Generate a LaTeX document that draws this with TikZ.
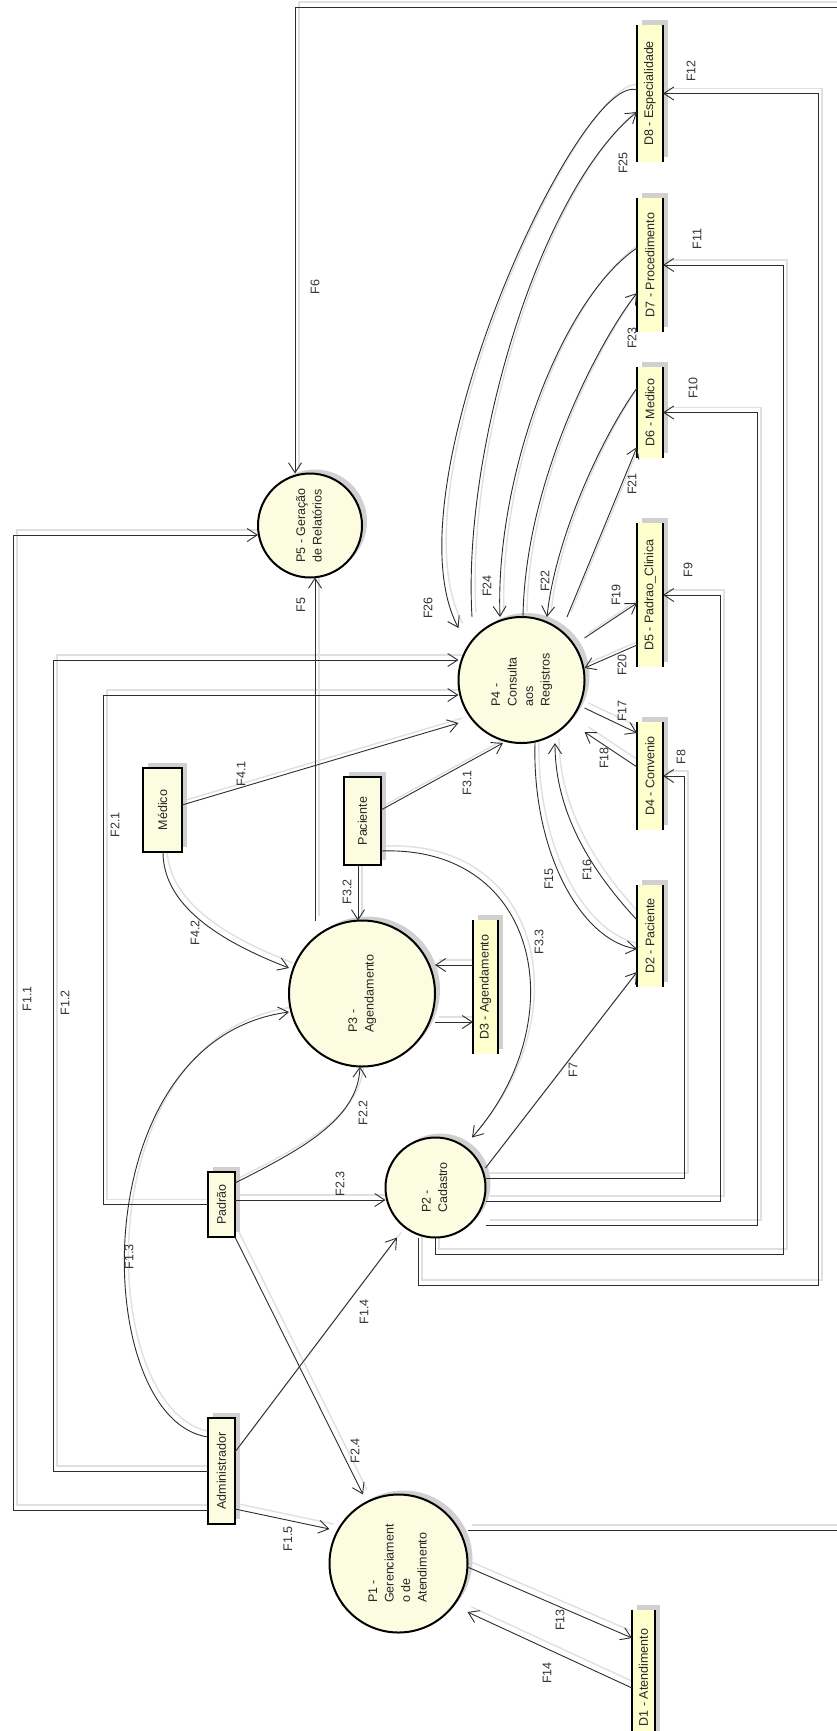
\documentclass[tikz,border=0pt]{standalone}
\usepackage{fontspec}
\setmainfont{Liberation Sans}
\usepackage{graphicx}
\usetikzlibrary{arrows.meta,shadows,calc}
\pgfdeclarelayer{bg}
\pgfsetlayers{bg,main}
\definecolor{procfill}{RGB}{252,252,224}
\definecolor{storefill}{RGB}{255,255,206}
\definecolor{shadowgray}{RGB}{208,208,208}
\definecolor{flowshadow}{RGB}{224,224,224}
\definecolor{linecol}{RGB}{45,45,45}
\newcommand\rt[1]{\rotatebox{90}{\begin{tabular}{@{}l@{}}#1\end{tabular}}}
\newcommand\allflows{%
% F6
\draw[flow] (p1.east |- 0,1530) -| (841,7) -| (p5.north -| 295,0);
% F1.1
\draw[flow] (adm.west |- 0,1510) -| (13,535) -- (p5.west |- 0,535);
% F1.2
\draw[flow] (adm.west |- 0,1471) -| (53,660) -- (p4.west |- 0,660);
% F2.1
\draw[flow] (pad.west) -| (103,695) -- (p4.west |- 0,695);
% F5
\draw[flow] (p3.north -| 315,0) -- (p5.south -| 315,0);
% F4.1
\draw[flow] (med.east |- 0,805) -- (p4.west |- 0,723);
% F3.1
\draw[flow] (pac.east |- 0,810) -- (503,0 |- p4.south);
% F4.2
\draw[flow] (med.south -| 163,0) .. controls (163,910) and (230,945) .. (p3.west |- 0,968);
% F3.2
\draw[flow] (pac.south -| 358,0) -- (p3.north -| 358,0);
% F1.3
\draw[flow] (adm.west |- 0,1437) .. controls (90,1420) and (80,1040) .. (p3.west |- 0,1012);
% F2.2
\draw[flow] (pad.east |- 0,1183) .. controls (300,1150) and (358,1120) .. (360,0 |- p3.south);
% F2.3
\draw[flow] (pad.east |- 0,1200) -- (p2.west |- 0,1200);
% F2.4
\draw[flow] (pad.south east) -- (363,0 |- p1.north);
% F1.4
\draw[flow] (adm.east |- 0,1452) -- (397,0 |- p2.south);
% F1.5
\draw[flow] (adm.east |- 0,1509) -- (p1.west |- 0,1529);
% F3.3
\draw[flow] (pac.east |- 0,851) .. controls (540,845) and (575,1020) .. (472,0 |- p2.north);
% F15
\draw[flow] (535,0 |- p4.south) .. controls (532,850) and (580,940) .. (d2.west |- 0,949);
% F16
\draw[flow] (d2.west |- 0,920) .. controls (600,880) and (555,820) .. (555,0 |- p4.south);
% F17
\draw[flow] (p4.east |- 0,708) -- (d4.west |- 0,733);
% F18
\draw[flow] (d4.west |- 0,767) -- (p4.east |- 0,732);
% F19
\draw[flow] (p4.east |- 0,638) -- (d5.west |- 0,603);
% F20
\draw[flow] (d5.west |- 0,645) -- (p4.east |- 0,668);
% F21
\draw[flow] (567,0 |- p4.north) -- (d6.west |- 0,447);
% F22
\draw[flow] (d6.west |- 0,388) .. controls (600,440) and (555,540) .. (547,0 |- p4.north);
% F23
\draw[flow] (523,0 |- p4.north) .. controls (525,480) and (600,340) .. (d7.west |- 0,293);
% F24
\draw[flow] (d7.west |- 0,248) .. controls (560,300) and (495,480) .. (500,0 |- p4.north);
% F25
\draw[flow] (472,0 |- p4.north) .. controls (462,450) and (540,190) .. (d8.west |- 0,112);
% F26
\draw[flow] (d8.west |- 0,90) .. controls (580,70) and (385,490) .. (p4.west |- 0,628);
% F7
\draw[flow] (p2.east |- 0,1168) -- (d2.west |- 0,972);
% F8
\draw[flow] (p2.east |- 0,1178) -| ([xshift=21pt]d4.east) -- (d4.east);
% F9
\draw[flow] (p2.east |- 0,1201) -| ([xshift=57pt]d5.east) -- (d5.east);
% F10
\draw[flow] (p2.east |- 0,1225) -| ([xshift=94pt]d6.east) -- (d6.east);
% F11
\draw[flow] (435,0 |- p2.south) |- (783,1254) |- (d7.east);
% F12
\draw[flow] (418,0 |- p2.south) |- (818,1285) |- (d8.east);
% F13
\draw[flow] (p1.east |- 0,1567) -- (d1.west |- 0,1638);
% F14
\draw[flow] (d1.west |- 0,1688) -- (p1.east |- 0,1612);
% D3 <-> P3
\draw[flow] (d3.west |- 0,965) -- (p3.east |- 0,965);
\draw[flow] (p3.east |- 0,1022) -- (d3.west |- 0,1022);
}
\begin{document}
\begin{tikzpicture}[x=1pt,y=-1pt,
  font=\fontsize{12.5}{16.5}\selectfont,
  every node/.style={text=black!85},
  proc/.style={circle, draw=black, line width=2pt, fill=procfill, inner sep=0pt, outer sep=0pt,
    drop shadow={shadow xshift=5pt, shadow yshift=4pt, fill=shadowgray, opacity=1}},
  ent/.style={rectangle, draw=black, line width=2.4pt, fill=procfill, inner sep=0pt, outer sep=0pt,
    drop shadow={shadow xshift=5pt, shadow yshift=5pt, fill=shadowgray, opacity=1}},
  store/.style={rectangle, fill=storefill, inner sep=0pt, outer sep=0pt, minimum width=26pt,
    drop shadow={shadow xshift=5pt, shadow yshift=5pt, fill=shadowgray, opacity=1}},
  storeline/.style={line width=2.4pt, draw=black},
  flow/.style={draw=linecol, line width=0.9pt, -{Straight Barb[length=10pt,width=13pt]}},
  flowlbl/.style={rotate=90, inner sep=0pt, text=black!80}
]
\useasboundingbox (0,0) rectangle (836,1731);
\begin{pgfonlayer}{bg}
\fill[white] (0,0) rectangle (836,1731);
\end{pgfonlayer}

% processes
\node[proc, minimum size=104pt] (p5) at (310,525.5) {\rt{P5 - Geração\\de Relatórios}};
\node[proc, minimum size=126pt] (p4) at (521.5,680) {\rt{P4 -\\Consulta\\aos\\Registros}};
\node[proc, minimum size=146pt] (p3) at (362,993.5) {\rt{P3 -\\Agendamento}};
\node[proc, minimum size=100pt] (p2) at (435.5,1187.5) {\rt{P2 -\\Cadastro}};
\node[proc, minimum size=138pt] (p1) at (398.5,1563.5) {\rt{P1 -\\Gerenciament\\o de\\Atendimento}};

% external entities
\node[ent, minimum width=39pt, minimum height=84pt] (med) at (162.5,810) {\rotatebox{90}{Médico}};
\node[ent, minimum width=37pt, minimum height=88pt] (pac) at (362.5,821) {\rotatebox{90}{Paciente}};
\node[ent, minimum width=27pt, minimum height=65pt] (pad) at (221.5,1204.5) {\rotatebox{90}{Padrão}};
\node[ent, minimum width=27pt, minimum height=106pt] (adm) at (221.5,1471) {\rotatebox{90}{Administrador}};

% data stores
\node[store, minimum height=137pt] (d8) at (650,93.5) {\rotatebox{90}{D8 - Especialidade}};
\node[store, minimum height=134pt] (d7) at (650,265) {\rotatebox{90}{D7 - Procedimento}};
\node[store, minimum height=91pt] (d6) at (650,412.5) {\rotatebox{90}{D6 - Medico}};
\node[store, minimum height=144pt] (d5) at (650,595) {\rotatebox{90}{D5 - Padrao\_Clinica}};
\node[store, minimum height=108pt] (d4) at (650,776) {\rotatebox{90}{D4 - Convenio}};
\node[store, minimum height=102pt] (d2) at (650,936) {\rotatebox{90}{D2 - Paciente}};
\node[store, minimum width=25pt, minimum height=134pt] (d3) at (485.5,987) {\rotatebox{90}{D3 - Agendamento}};
\node[store, minimum width=23pt, minimum height=135pt] (d1) at (643.5,1677.5) {\rotatebox{90}{D1 - Atendimento}};
\foreach \s in {d1,d2,d3,d4,d5,d6,d7,d8}
  \draw[storeline] (\s.north west) -- (\s.south west) (\s.north east) -- (\s.south east);

% connector shadows
\begin{pgfonlayer}{bg}
\begin{scope}[transform canvas={xshift=4pt,yshift=5pt}, flow/.style={draw=flowshadow, line width=1.4pt}]
\allflows
\end{scope}
\end{pgfonlayer}

% connectors
\allflows

% labels
\node[flowlbl] (lF6) at (315,287) {F6};
\node[flowlbl] (lF12) at (691,71) {F12};
\node[flowlbl] (lF25) at (623,163) {F25};
\node[flowlbl] (lF11) at (697,239) {F11};
\node[flowlbl] (lF23) at (632,338) {F23};
\node[flowlbl] (lF10) at (693,388) {F10};
\node[flowlbl] (lF21) at (632,484) {F21};
\node[flowlbl] (lF26) at (428,608) {F26};
\node[flowlbl] (lF24) at (487,586) {F24};
\node[flowlbl] (lF22) at (545,581) {F22};
\node[flowlbl] (lF19) at (616,595) {F19};
\node[flowlbl] (lF9) at (688,570) {F9};
\node[flowlbl] (lF20) at (622,665) {F20};
\node[flowlbl] (lF17) at (622,711) {F17};
\node[flowlbl] (lF18) at (604,758) {F18};
\node[flowlbl] (lF8) at (681,757) {F8};
\node[flowlbl] (lF31) at (467,783) {F3.1};
\node[flowlbl] (lF5) at (301,605) {F5};
\node[flowlbl] (lF41) at (241,774) {F4.1};
\node[flowlbl] (lF21b) at (115,825) {F2.1};
\node[flowlbl] (lF42) at (195,933) {F4.2};
\node[flowlbl] (lF32) at (347,892) {F3.2};
\node[flowlbl] (lF11b) at (27,999) {F1.1};
\node[flowlbl] (lF12b) at (65,1003) {F1.2};
\node[flowlbl] (lF22b) at (363,1113) {F2.2};
\node[flowlbl] (lF23b) at (340,1184) {F2.3};
\node[flowlbl] (lF13) at (129,1257) {F1.3};
\node[flowlbl] (lF14) at (364,1312) {F1.4};
\node[flowlbl] (lF24b) at (355,1451) {F2.4};
\node[flowlbl] (lF15) at (288,1539) {F1.5};
\node[flowlbl] (lF33) at (539,942) {F3.3};
\node[flowlbl] (lF15b) at (549,879) {F15};
\node[flowlbl] (lF16) at (587,870) {F16};
\node[flowlbl] (lF7) at (573,1070) {F7};
\node[flowlbl] (lF13b) at (560,1620) {F13};
\node[flowlbl] (lF14b) at (547,1673) {F14};
\end{tikzpicture}
\end{document}
